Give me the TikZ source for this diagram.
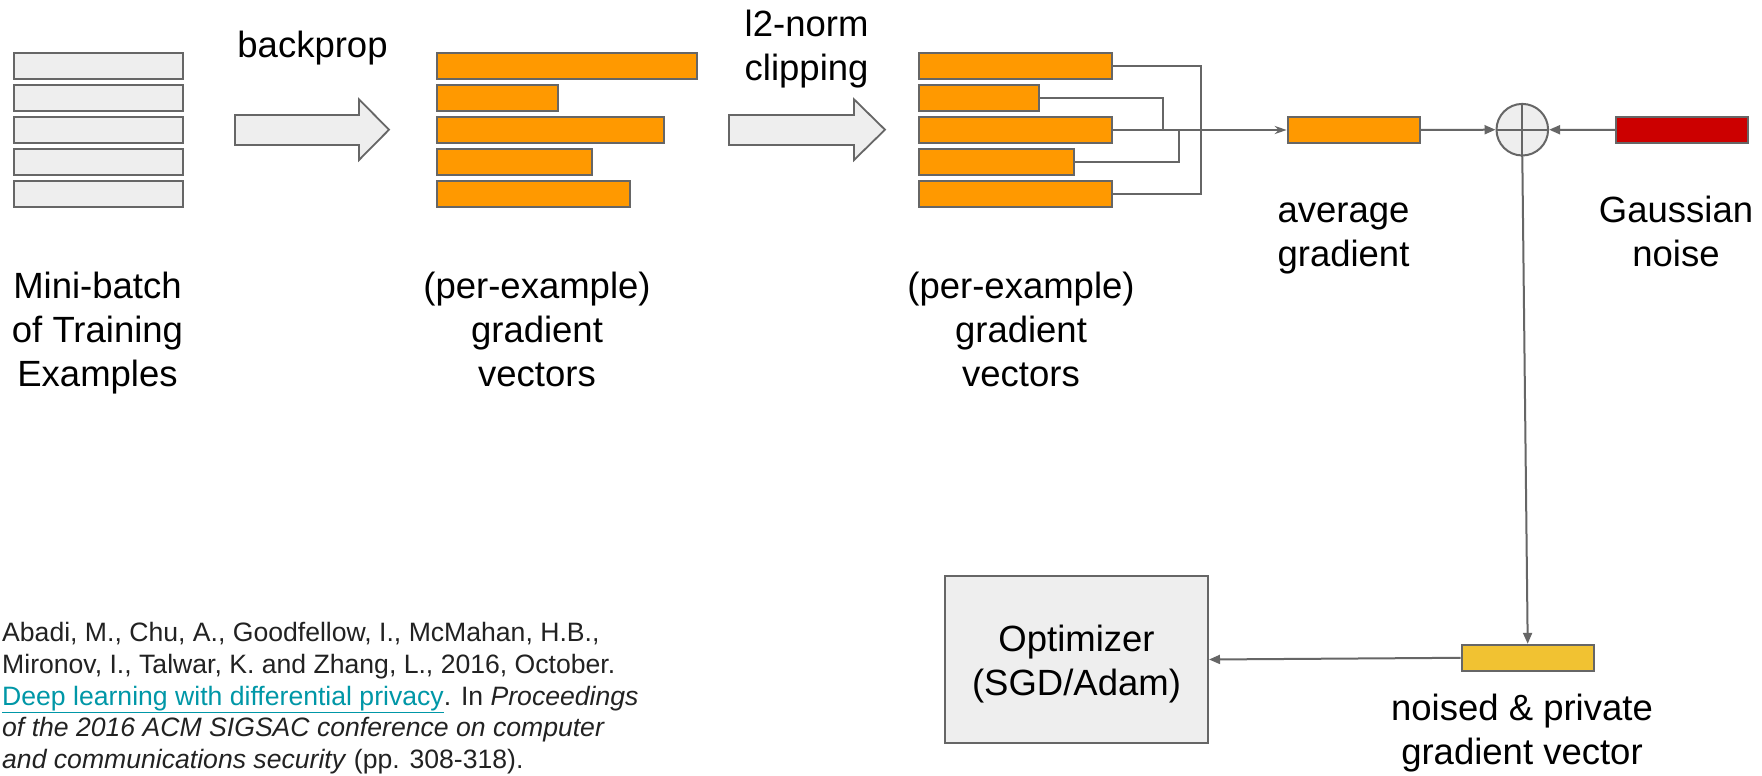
\documentclass[tikz,border=0pt]{standalone}
\usepackage{fontspec}
\setmainfont{Liberation Sans}
\usetikzlibrary{arrows.meta}
\definecolor{bgray}{HTML}{EEEEEE}
\definecolor{edge}{HTML}{666666}
\definecolor{gorange}{HTML}{FF9900}
\definecolor{gred}{HTML}{CC0000}
\definecolor{gyellow}{HTML}{F1C232}
\definecolor{linkc}{HTML}{0097A7}
\definecolor{citec}{HTML}{222222}
\begin{document}
\begin{tikzpicture}[x=1pt,y=-1pt,
  vbox/.style={draw=edge, line width=2pt, inner sep=0pt, minimum height=26pt, anchor=west},
  gbox/.style={vbox, fill=bgray},
  obox/.style={vbox, fill=gorange},
  conn/.style={draw=edge, line width=2pt},
  big/.style={font=\fontsize{36.5}{44}\selectfont, align=center, inner sep=0pt, anchor=base},
  blk/.style={draw=edge, line width=1.8pt, fill=bgray, line join=miter},
  tri/.style={-{Triangle[length=11pt,width=9pt]}},
  thin/.style={-{Stealth[length=12pt,width=8pt,inset=4pt]}}
]
\useasboundingbox (0,0) rectangle (1762,776);
\fill[white] (0,0) rectangle (1762,776);

% mini-batch
\foreach \i/\yy in {1/66,2/98,3/130,4/162,5/194}
  \node[gbox, minimum width=168.4] (m\i) at (13.3,\yy) {};

% per-example gradients
\foreach \i/\yy/\w in {1/66/260, 2/98/120.7, 3/130/226.7, 4/162/155, 5/194/193.3}
  \node[obox, minimum width=\w] (a\i) at (436,\yy) {};

% clipped gradients
\foreach \i/\yy/\w in {1/66/192.7, 2/98/119.5, 3/130/192.7, 4/162/154.5, 5/194/192.7}
  \node[obox, minimum width=\w] (c\i) at (918,\yy) {};

% block arrows
\draw[blk] (235,115) -- (359,115) -- (359,99.3) -- (389,129.7) -- (359,160) -- (359,145) -- (235,145) -- cycle;
\draw[blk] (729,115) -- (854,115) -- (854,99.3) -- (885,129.7) -- (854,160) -- (854,145) -- (729,145) -- cycle;

% average, sum, noise
\node[obox, minimum width=132.3] (avg) at (1286.7,130) {};
\node[circle, draw=edge, line width=2pt, fill=bgray, minimum size=51.6pt, inner sep=0pt] (sum) at (1522.3,129.7) {};
\draw[conn] (sum.north) -- (sum.south) (sum.west) -- (sum.east);
\node[vbox, fill=gred, minimum width=131.7] (noise) at (1615,130) {};

% noised vector and optimizer
\node[vbox, fill=gyellow, minimum width=132] (noised) at (1460.7,657.8) {};
\node[draw=edge, line width=2pt, fill=bgray, minimum width=263pt, minimum height=167.6pt,
      inner sep=0pt] (opt) at (1076.5,659.5) {};
\node[big] (topt) at (1076.5,695) {Optimizer\\(SGD/Adam)};

% connectors
\coordinate (j2) at (1162.5,130);
\coordinate (j4) at (1179.3,130);
\draw[conn] (c1.east) -- ++(87.8,0) |- (c5.east);
\draw[conn] (c2.east) -| (j2);
\draw[conn] (c4.east) -| (j4);
\draw[conn, thin] (c3.east) -- (avg.west);
\draw[conn, tri] (avg.east) -- (sum.west);
\draw[conn, tri] (noise.west) -- (sum.east);
\draw[conn, tri] (sum.south) -- (noised.north);
\draw[conn, tri] (noised.west) -- (opt.east);

% labels (anchor base = last line baseline)
\node[big] (tbp) at (312.5,58) {backprop};
\node[big] (tclip) at (806.6,80.5) {l2-norm\\clipping};
\node[big] (tmb) at (97.5,386.5) {Mini-batch\\of Training\\Examples};
\node[big] (tg1) at (537,386.5) {(per-example)\\gradient\\vectors};
\node[big] (tg2) at (1021,386.5) {(per-example)\\gradient\\vectors};
\node[big] (tavg) at (1343.5,266.7) {average\\gradient};
\node[big] (tgau) at (1676,266.7) {Gaussian\\noise};
\node[big] (tnp) at (1522,764) {noised \& private\\gradient vector};

% citation
\node[anchor=base west, inner sep=0pt, align=left, text=citec,
      font=\fontsize{26.6}{31.7}\selectfont] (cit) at (2,768.5)
  {Abadi, M., Chu, A., Goodfellow, I., McMahan, H.B.,\\
   Mironov, I., Talwar, K. and Zhang, L., 2016, October.\\
   \textcolor{linkc}{\underline{Deep learning with differential privacy}}. In \textit{Proceedings}\\
   \textit{of the 2016 ACM SIGSAC conference on computer}\\
   \textit{and communications security} (pp. 308-318).};
\end{tikzpicture}
\end{document}
